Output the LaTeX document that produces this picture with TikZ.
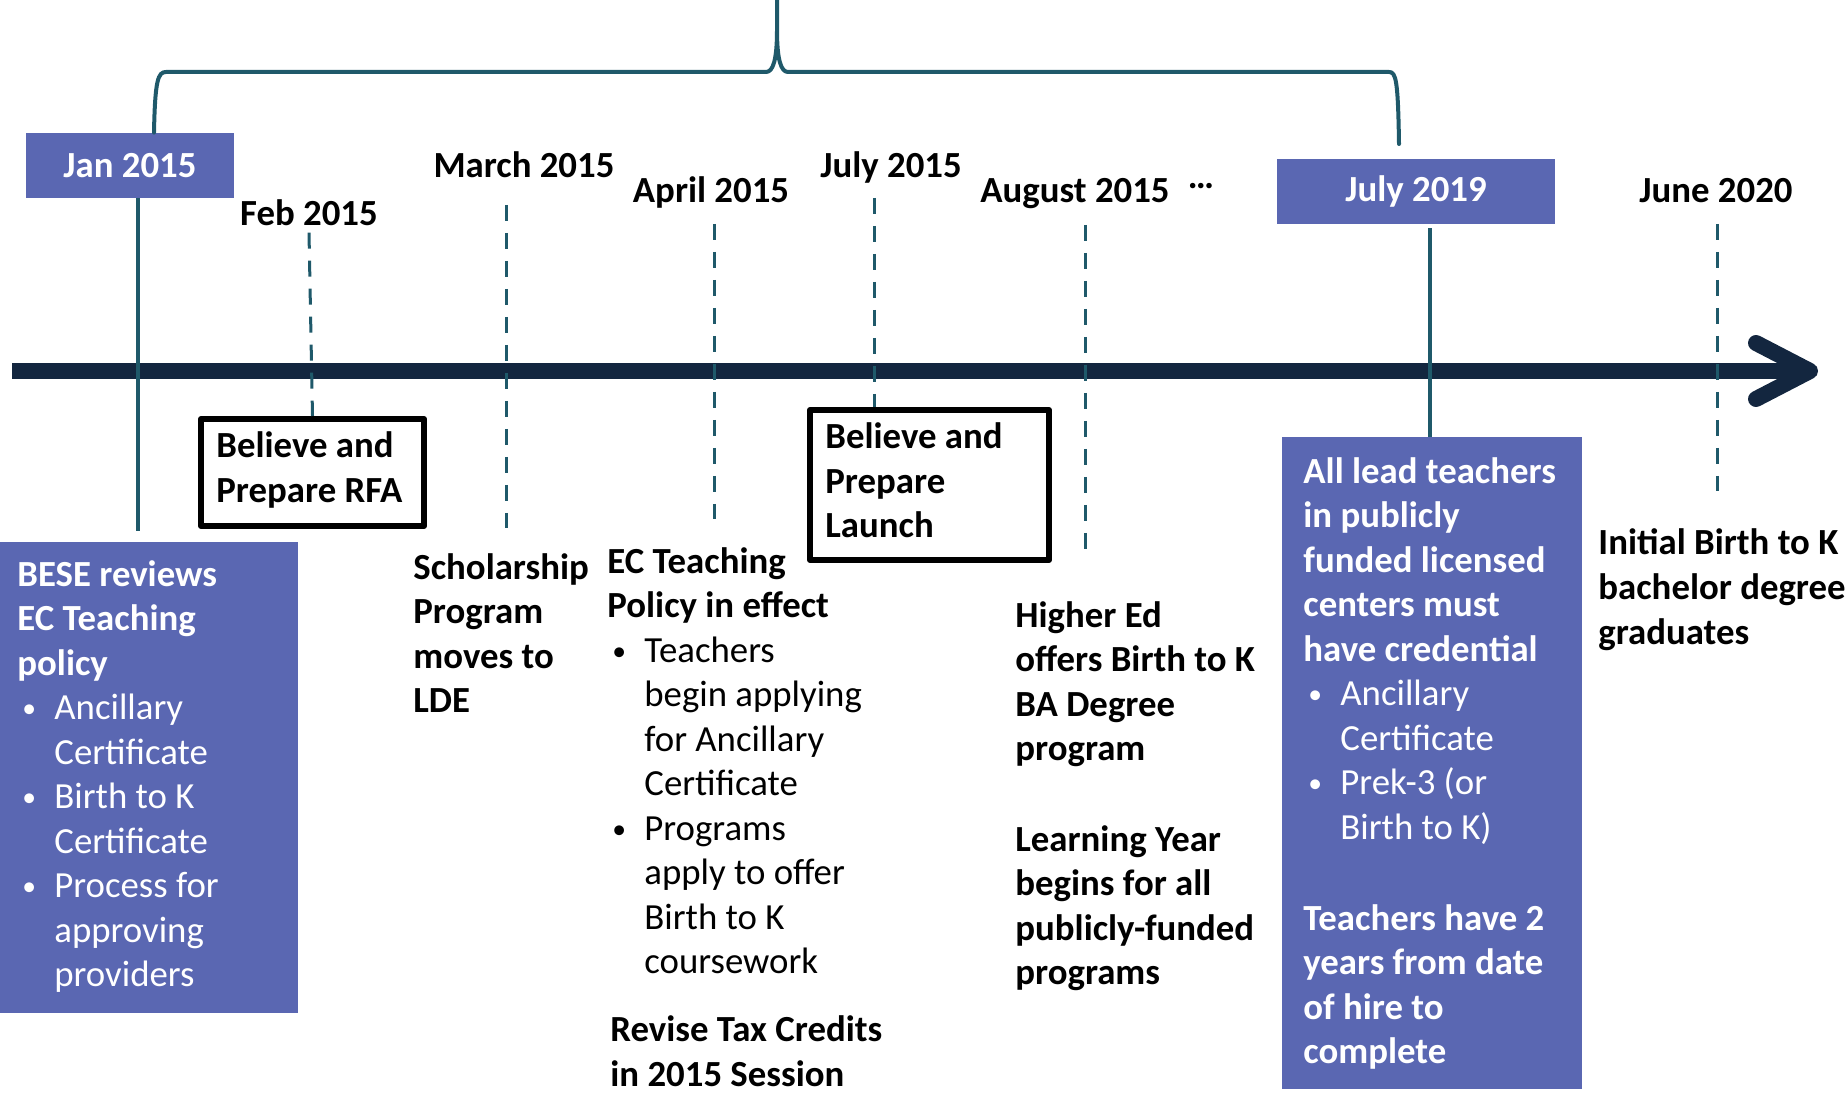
\documentclass[tikz,border=0pt]{standalone}
\usepackage{fontspec}
\usepackage{graphicx}
\setmainfont{Carlito}
\definecolor{boxblue}{RGB}{90,103,178}
\definecolor{tealln}{RGB}{31,89,106}
\definecolor{navybar}{RGB}{19,38,63}
\newcommand\bul{\makebox[18.5pt][l]{\hspace{2.5pt}\raisebox{1pt}{\scalebox{0.75}{\textbullet}}}}
\newcommand\ind{\hspace*{18.5pt}}
\tikzset{
	lbl/.style={inner sep=0pt, anchor=base},
	txt/.style={inner sep=0pt, anchor=base west, align=left},
	bluebox/.style={fill=boxblue, inner sep=0pt, text=white},
	blackbox/.style={draw=black, line width=3pt, inner sep=0pt},
	dashln/.style={tealln, line width=1.5pt, dash pattern=on 8pt off 6pt},
	solidln/.style={tealln, line width=2pt}
}
\begin{document}
\begin{tikzpicture}[x=0.5pt, y=-0.5pt, line join=round,
		font=\fontsize{18.4}{22.25}\selectfont\bfseries]
		\useasboundingbox (0,0) rectangle (1845,1095);
		% time line
		\path
			(12,371) coordinate (tlA)
			(1800,371) coordinate (tlB)
			(1810,371) coordinate (tip);
		\draw[navybar, line width=8pt] (tlA)--(tlB);
		\draw[navybar, line width=8pt, line cap=round]
			(1756,343)--(tip)--(1756,399);
		% boxes
		\node[bluebox, minimum width=104pt, minimum height=32.5pt] (jan) at (130,165.5) {Jan 2015};
		\node[bluebox, minimum width=139pt, minimum height=32.5pt] (jul19) at (1416,191.5) {July 2019};
		\node[bluebox, minimum width=149pt, minimum height=235.5pt, anchor=north west] (bese) at (0,542) {};
		\node[bluebox, minimum width=150pt, minimum height=326pt, anchor=north west] (lead) at (1282,437) {};
		\node[blackbox, minimum width=111.5pt, minimum height=53.5pt, anchor=north west] (rfa) at (198,416) {};
		\node[blackbox, minimum width=119.5pt, minimum height=75pt, anchor=north west] (launch) at (807,407) {};
		% brace
		\draw[solidln, line cap=round]
			(jan.north -| 154,0) .. controls (155,80) and (158,72) .. (166,72)
			-- (766,72) .. controls (773,72) and (777,60) .. (777,30) -- (777,0)
			(777,30) .. controls (777,60) and (781,72) .. (788,72)
			-- (1389,72) .. controls (1396,72) and (1398,80) .. (1399,144);
		% dates
		\node[lbl] (feb) at (309,226) {Feb 2015};
		\node[lbl] (mar) at (524,178) {March 2015};
		\node[lbl] (apr) at (711,203) {April 2015};
		\node[lbl] (jul15) at (891,178) {July 2015};
		\node[lbl] (aug) at (1075,203) {August 2015};
		\node[inner sep=0pt] (more) at (1201,186) {…};
		\node[lbl] (jun20) at (1716,203) {June 2020};
		% ticks
		\path
			(506,205) coordinate (mar1) (506,528) coordinate (mar2)
			(714,224) coordinate (apr1) (714,519) coordinate (apr2)
			(874,198) coordinate (jul1) (launch.north -| 874,0) coordinate (jul2)
			(1085,225) coordinate (aug1) (1085,560) coordinate (aug2)
			(1717,224) coordinate (jun1) (1717,491) coordinate (jun2);
		\draw[dashln] ([yshift=-3pt]feb.south) -- (rfa.north);
		\foreach \a/\b in {mar1/mar2, apr1/apr2, jul1/jul2, aug1/aug2, jun1/jun2}
			\draw[dashln] (\a)--(\b);
		\draw[solidln] ([xshift=4pt]jan.south) -- ([xshift=4pt,yshift=5.5pt]jan.south |- bese.north);
		\draw[solidln] ([xshift=7pt,yshift=-2pt]jul19.south) -- ([xshift=7pt]jul19.south |- lead.north);
		% texts (placed at the baseline of their last line)
		\node[txt] (rfatxt) at (216,502.5) {Believe and\\Prepare RFA};
		\node[txt] (launchtxt) at (825,538) {Believe and\\Prepare\\Launch};
		\node[txt, text=white] (besetxt) at (17,986.5) {BESE reviews\\EC Teaching\\policy\\
			\textmd{\bul Ancillary}\\\textmd{\ind Certificate}\\
			\textmd{\bul Birth to K}\\\textmd{\ind Certificate}\\
			\textmd{\bul Process for}\\\textmd{\ind approving}\\\textmd{\ind providers}};
		\node[txt] (schol) at (413,712.5) {Scholarship\\Program\\moves to\\LDE};
		\node[txt] (ecpol) at (607,973.5) {EC Teaching\\Policy in effect\\
			\textmd{\bul Teachers}\\\textmd{\ind begin applying}\\
			\textmd{\ind for Ancillary}\\\textmd{\ind Certificate}\\
			\textmd{\bul Programs}\\\textmd{\ind apply to offer}\\
			\textmd{\ind Birth to K}\\\textmd{\ind coursework}};
		\node[txt] (tax) at (610,1086) {Revise Tax Credits\\in 2015 Session};
		\node[txt] (higher) at (1015,760.5) {Higher Ed\\offers Birth to K\\BA Degree\\program};
		\node[txt] (learn) at (1015,984.5) {Learning Year\\begins for all\\publicly-funded\\programs};
		\node[txt, text=white] (leadtxt) at (1303,839) {All lead teachers\\in publicly\\funded licensed\\centers must\\have credential\\
			\textmd{\bul Ancillary}\\\textmd{\ind Certificate}\\
			\textmd{\bul Prek-3 (or}\\\textmd{\ind Birth to K)}};
		\node[txt, text=white] (hire) at (1303,1063.5) {Teachers have 2\\years from date\\of hire to\\complete};
		\node[txt] (grads) at (1598,644) {Initial Birth to K\\bachelor degree\\graduates};
\end{tikzpicture}
\end{document}
